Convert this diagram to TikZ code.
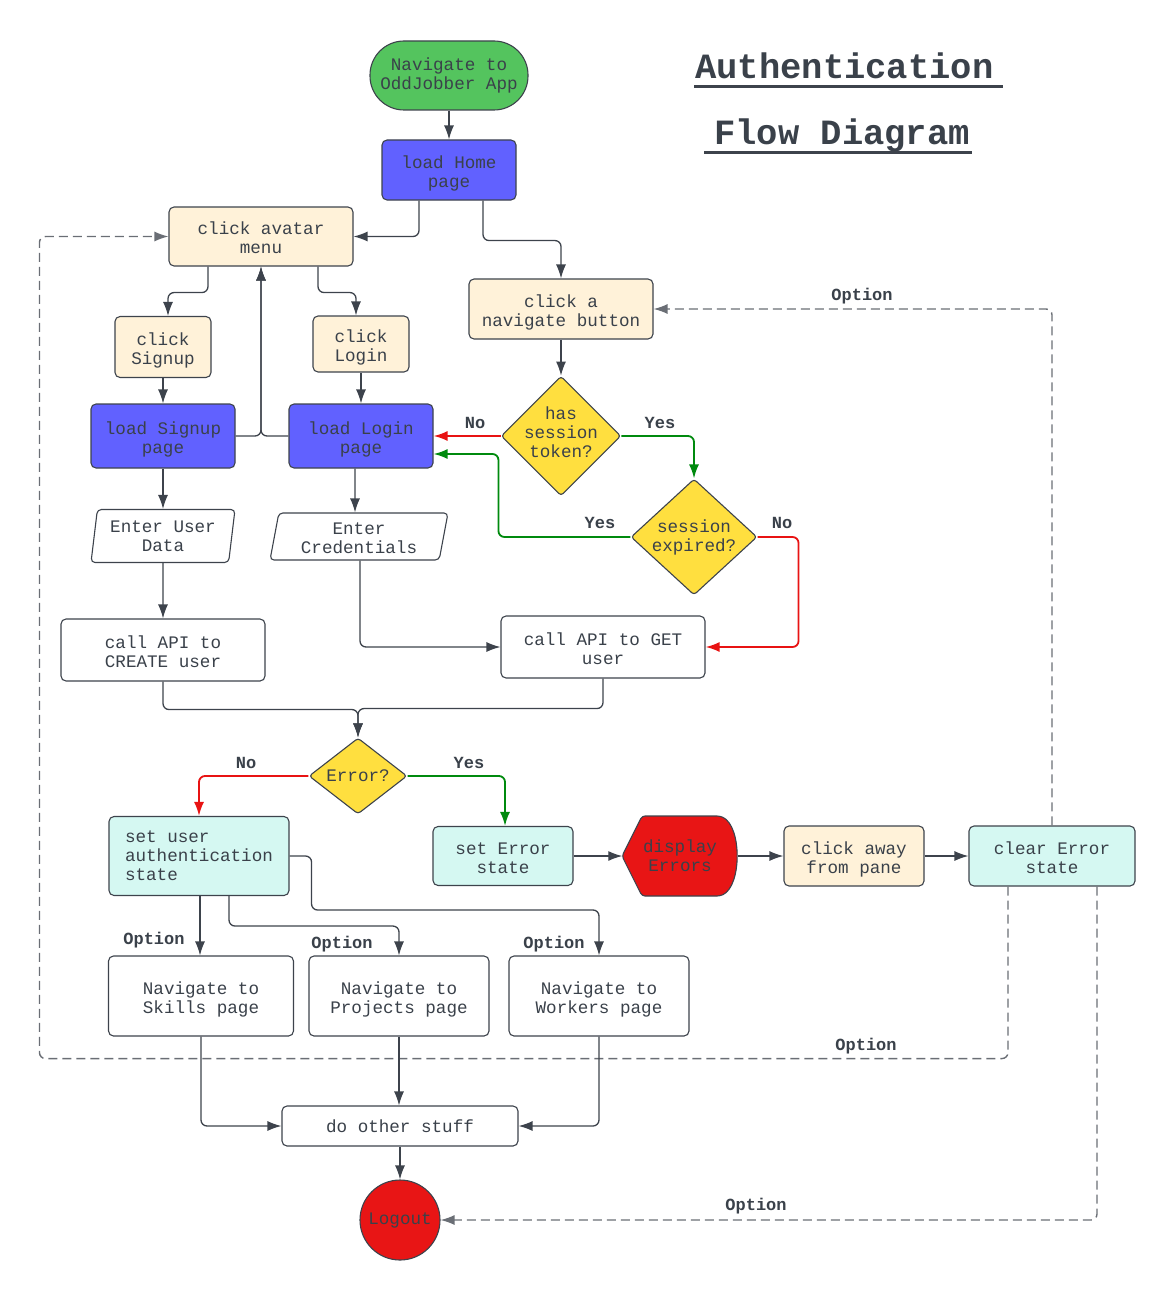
\documentclass[tikz,border=0pt]{standalone}
\usepackage{fontspec}
\setmainfont{Liberation Mono}
\usetikzlibrary{shapes,arrows.meta}

\definecolor{txtgray}{HTML}{3A414A}
\definecolor{edgegray}{HTML}{3D434C}
\definecolor{dashgray}{HTML}{6A6E75}
\definecolor{startgreen}{HTML}{54C45E}
\definecolor{pageblue}{HTML}{6161FF}
\definecolor{clickcream}{HTML}{FFF2D9}
\definecolor{statecyan}{HTML}{D5F8F2}
\definecolor{askyellow}{HTML}{FFDF3F}
\definecolor{errred}{HTML}{E81515}
\definecolor{yesgreen}{HTML}{008A0E}
\definecolor{nored}{HTML}{E81313}

\begin{document}
\begin{tikzpicture}[x=1pt, y=-1pt,
      font=\fontsize{17.6}{19}\selectfont, text=txtgray,
      block_base/.style ={rectangle, draw=edgegray, line width=1.1pt,
        rounded corners=5pt, align=center, inner sep=2pt},
      block_start/.style ={block_base, fill=startgreen, rounded corners=34pt},
      block_page/.style ={block_base, fill=pageblue},
      block_click/.style ={block_base, fill=clickcream},
      block_call/.style ={block_base, fill=white},
      block_state/.style ={block_base, fill=statecyan},
      block_input/.style ={trapezium, trapezium left angle=79,
        trapezium right angle=101, trapezium stretches body,
        draw=edgegray, line width=1.1pt, rounded corners=4pt,
        fill=white, align=center, inner sep=1pt},
      decision/.style ={diamond, draw=edgegray, line width=1.1pt,
        rounded corners=3pt, fill=askyellow, align=center, inner sep=-3pt},
      block_end/.style ={circle, draw=edgegray, line width=1.1pt,
        fill=errred, minimum size=80pt, inner sep=0pt},
      block_noborder/.style ={draw=none, align=center, inner sep=0pt},
      text_low/.style ={execute at begin node=\rule{0pt}{39pt},
        execute at end node=\rule[-4.5pt]{0pt}{4.5pt}},
      text_high/.style ={execute at end node=\rule[-7pt]{0pt}{7pt}},
      label_bold/.style ={font=\fontsize{17}{19}\selectfont\bfseries,
        text=txtgray, inner sep=0pt},
      title_text/.style ={font=\fontsize{35.5}{38}\selectfont\bfseries,
        anchor=base west, inner sep=0pt},
      line/.style ={draw=edgegray, line width=1.3pt, rounded corners=6pt,
        -{Latex[length=14pt,width=10pt]}},
      line_yes/.style ={draw=yesgreen, line width=1.8pt},
      line_no/.style ={draw=nored, line width=1.8pt},
      line_opt/.style ={draw=dashgray, line width=1.4pt, dash pattern=on 9pt off 5pt}]
    \useasboundingbox (0,0) rectangle (1175,1300);
    %
    % 1. placing the nodes at their coordinates
    % title
    \node [title_text] (title1) at (695,79) {Authentication};
    \node [title_text] (title2) at (714,145) {Flow Diagram};
    \draw [edgegray, line width=3pt] (694,87) -- (1003,87);
    \draw [edgegray, line width=3pt] (704,153) -- (972,153);
    % start - row 1
    \node [block_start, minimum width=158pt, minimum height=69pt] (start_app) at (449,75.5) {Navigate to\\OddJobber App};
    \node [block_page, text_low, minimum width=134pt, minimum height=60pt] (home) at (449,170) {load Home\\page};
    % menus - row 2
    \node [block_click, text_low, minimum width=184pt, minimum height=59pt] (avatar) at (261,236.5) {click avatar\\menu};
    \node [block_click, text_low, minimum width=184pt, minimum height=60pt] (nav_btn) at (561,309) {click a\\navigate button};
    \node [block_click, text_low, minimum width=96pt, minimum height=61pt] (signup_click) at (163,347) {click\\Signup};
    \node [block_click, text_low, minimum width=96pt, minimum height=56pt] (login_click) at (361,344) {click\\Login};
    % pages - row 3
    \node [block_page, text_low, minimum width=144pt, minimum height=64pt] (signup_load) at (163,436) {load Signup\\page};
    \node [block_page, text_low, minimum width=144pt, minimum height=64pt] (login_load) at (361,436) {load Login\\page};
    \node [decision, text_high, minimum width=116pt, minimum height=116pt] (has_token) at (561,436) {has\\session\\token?};
    \node [decision, minimum width=126pt, minimum height=116pt] (expired) at (694,537) {session\\expired?};
    % input - row 4
    \node [block_input, minimum width=144pt, minimum height=53pt] (user_data) at (163,536) {Enter User\\Data};
    \node [block_input, text_low, minimum width=178pt, minimum height=47pt] (credentials) at (359,536.5) {Enter\\Credentials};
    % api calls - row 5
    \node [block_call, text_low, minimum width=204pt, minimum height=62pt] (api_create) at (163,650) {call API to\\CREATE user};
    \node [block_call, text_low, minimum width=204pt, minimum height=62pt] (api_get) at (603,647) {call API to GET\\user};
    \node [decision, minimum width=98pt, minimum height=76pt] (err_check) at (358,776) {Error?};
    % states - row 6
    \node [block_state, minimum width=180pt, minimum height=79pt, align=left] (auth_state) at (199,856) {set user\\authentication\\state};
    \node [block_state, text_low, minimum width=140pt, minimum height=59pt] (err_state) at (503,856) {set Error\\state};
    \draw [draw=edgegray, line width=1.1pt, fill=errred, rounded corners=3pt]
      (622,856) -- (642,816) -- (720,816) .. controls (742,826) and (742,886) .. (720,896) -- (642,896) -- cycle;
    \node [block_noborder, minimum width=115pt, minimum height=80pt] (disp_err) at (680,856) {display\\Errors};
    \node [block_click, text_low, minimum width=140pt, minimum height=60pt] (click_away) at (854,856) {click away\\from pane};
    \node [block_state, text_low, minimum width=166pt, minimum height=60pt] (clear_err) at (1052,856) {clear Error\\state};
    % pages - row 7
    \node [block_call, text_low, minimum width=185pt, minimum height=80pt] (nav_skills) at (201,996) {Navigate to\\Skills page};
    \node [block_call, text_low, minimum width=180pt, minimum height=80pt] (nav_projects) at (399,996) {Navigate to\\Projects page};
    \node [block_call, text_low, minimum width=180pt, minimum height=80pt] (nav_workers) at (599,996) {Navigate to\\Workers page};
    % end - row 8
    \node [block_call, minimum width=236pt, minimum height=40pt] (other_stuff) at (400,1126) {do other stuff};
    \node [block_end] (logout) at (400,1220) {Logout};
    % labels
    \node [label_bold] (lbl_token_no) at (475,423) {No};
    \node [label_bold] (lbl_token_yes) at (660,423) {Yes};
    \node [label_bold] (lbl_expired_yes) at (600,523) {Yes};
    \node [label_bold] (lbl_expired_no) at (782,523) {No};
    \node [label_bold] (lbl_err_no) at (246,763) {No};
    \node [label_bold] (lbl_err_yes) at (469,763) {Yes};
    \node [label_bold] (lbl_opt_nav) at (862,296) {Option};
    \node [label_bold] (lbl_opt_skills) at (154,940) {Option};
    \node [label_bold] (lbl_opt_projects) at (342,944) {Option};
    \node [label_bold] (lbl_opt_workers) at (554,944) {Option};
    \node [label_bold] (lbl_opt_avatar) at (866,1046) {Option};
    \node [label_bold] (lbl_opt_logout) at (756,1206) {Option};
    %
    %
    % 2. connecting nodes with paths
    \begin{scope}[every path/.style=line]
      % paths for the top rows
      \path (start_app) -- (home);
      \path ([xshift=-30pt]home.south) |- (avatar.east);
      \path ([xshift=34pt]home.south) -- ++(0,40) -| (nav_btn.north);
      \path ([xshift=-53pt]avatar.south) -- ++(0,26) -| ([xshift=5pt]signup_click.north);
      \path ([xshift=57pt]avatar.south) -- ++(0,26) -| ([xshift=-5pt]login_click.north);
      \path (signup_click) -- (signup_load);
      \path (login_click) -- (login_load);
      \path (signup_load.east) -| (avatar.south);
      \path (login_load.west) -| (avatar.south);
      %
      \path (nav_btn) -- (has_token);
      \path [line_no] (has_token.west) -- (login_load.east);
      \path [line_yes] (has_token.east) -| (expired.north);
      \path [line_yes] (expired.west) -- ++(-132,0) |- ([yshift=-18pt]login_load.east);
      \path [line_no] (expired.east) -- ++(41,0) |- (api_get.east);
      %
      \path (signup_load) -- (user_data);
      \path ([xshift=-6pt]login_load.south) -- ([xshift=-4pt]credentials.north);
      \path (user_data) -- (api_create);
      \path ([xshift=1pt]credentials.south) |- (api_get.west);
      \path (api_create.south) -- ++(0,28) -| (err_check.north);
      \path (api_get.south) -- ++(0,30) -| (err_check.north);
      %
      \path [line_no] (err_check.west) -| (auth_state.north);
      \path [line_yes] (err_check.east) -| ([xshift=2pt]err_state.north);
      \path (err_state) -- (disp_err);
      \path (disp_err) -- (click_away);
      \path (click_away) -- (clear_err);
      % option loops
      \path [line_opt] (clear_err.north) |- (nav_btn.east);
      \path [line_opt] ([xshift=-44pt]clear_err.south) -- ++(0,172) -| ([xshift=-129pt]avatar.west) -- (avatar.west);
      \path [line_opt] ([xshift=45pt]clear_err.south) |- (logout.east);
      %
      \path ([xshift=1pt]auth_state.south) -- ([xshift=-1pt]nav_skills.north);
      \path ([xshift=30pt]auth_state.south) -- ++(0,30) -| (nav_projects.north);
      \path (auth_state.east) -- ++(22,0) -- ++(0,54) -| (nav_workers.north);
      \path (nav_skills.south) |- (other_stuff.west);
      \path (nav_projects.south) -- (nav_projects.south |- other_stuff.north);
      \path (nav_workers.south) |- (other_stuff.east);
      \path (other_stuff) -- (logout);
    \end{scope}
  \end{tikzpicture}
\end{document}
